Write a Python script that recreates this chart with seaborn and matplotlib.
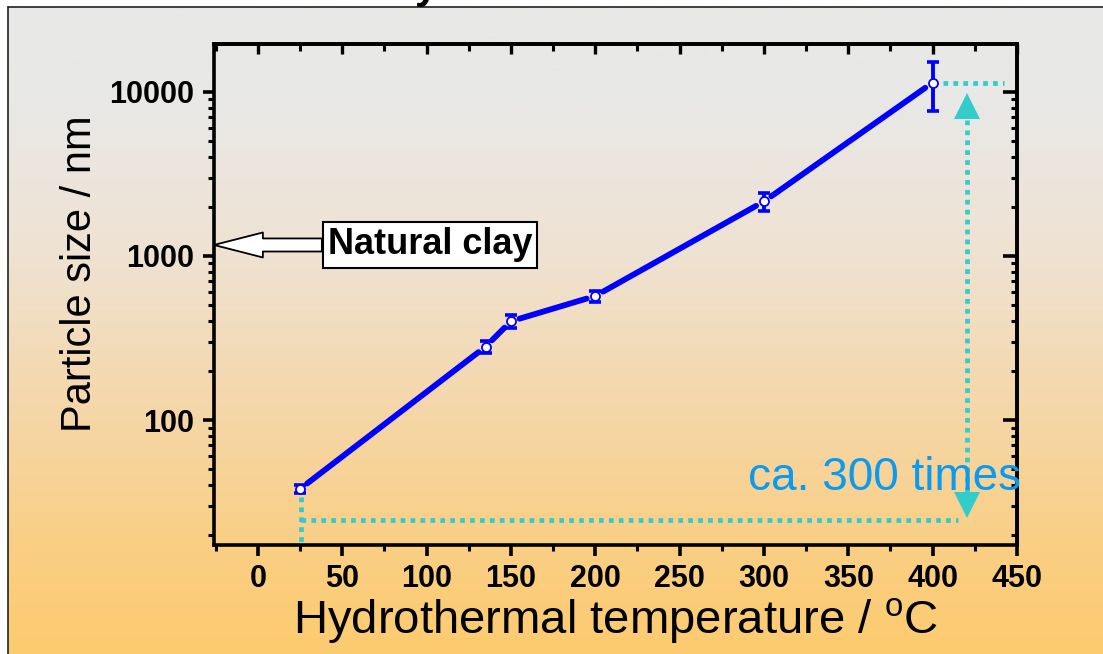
import numpy as np
import pandas as pd
import matplotlib
matplotlib.use("Agg")
import matplotlib.pyplot as plt
from matplotlib.colors import LinearSegmentedColormap
from matplotlib.ticker import MultipleLocator, LogLocator, FixedLocator, NullFormatter
import seaborn as sns

## data
temperature = [25, 135, 150, 200, 300, 400]          # degC
size_nm = [38, 280, 400, 570, 2150, 11400]           # nm
size_err = [2, 25, 38, 45, 270, 3800]
x_ticks = [0, 50, 100, 150, 200, 250, 300, 350, 400, 450]
y_ticks = [100, 1000, 10000]
natural_clay = 1167   # where the "Natural clay" arrow hits the y axis

sns.set_theme(style="ticks")
plt.rcParams["font.family"] = ["Liberation Sans", "DejaVu Sans"]
plt.rcParams["mathtext.default"] = "regular"
for k in ["text.color", "axes.labelcolor", "xtick.color", "ytick.color", "axes.edgecolor"]:
    plt.rcParams[k] = "black"

W, H = 1103, 654
fig = plt.figure(figsize=(W / 100, H / 100), dpi=100)
fig.patch.set_facecolor("white")

## gradient background with a thin frame
bg = fig.add_axes([0, 0, 1, 1], zorder=-10)
cmap = LinearSegmentedColormap.from_list(
    "bg", [(0.0, "#E8E8E8"), (0.15, "#E9E8E6"), (0.38, "#EFE2D2"),
           (0.61, "#F5D7AA"), (0.83, "#FACF84"), (1.0, "#FDCB6E")])
grad = np.linspace(0, 1, 256).reshape(-1, 1)
bg.imshow(grad, cmap=cmap, extent=[8, W + 5, H + 5, 7], aspect="auto")
bg.plot([8, 8], [7, H + 5], color="#222222", lw=1.2)
bg.plot([8, W + 5], [7, 7], color="#222222", lw=1.2)
bg.set_xlim(0, W)
bg.set_ylim(H, 0)
bg.axis("off")
# title sits above the page, only the descender of the "y" shows
fig.text(426 / W, 1 + 2 / H, "y", fontsize=30, fontweight="bold",
         ha="center", va="baseline", color="black")

ax = fig.add_axes([214 / W, 1 - 545 / H, (1017 - 214) / W, (545 - 44) / H])
ax.set_facecolor("none")
ax.set_yscale("log")
ax.set_xlim(-26, 450)
ax.set_ylim(17.3, 19600)

## line segments stop short of the markers (Origin style gap)
gap = 9.0
pts = ax.transData.transform(np.column_stack([temperature, size_nm]))
seg_rows = []
for i in range(len(pts) - 1):
    p0, p1 = pts[i], pts[i + 1]
    d = (p1 - p0) / np.hypot(*(p1 - p0))
    a, b = ax.transData.inverted().transform(np.array([p0 + d * gap, p1 - d * gap]))
    seg_rows.append({"seg": i, "T": a[0], "size": a[1]})
    seg_rows.append({"seg": i, "T": b[0], "size": b[1]})
segs = pd.DataFrame(seg_rows)

ax.errorbar(temperature, size_nm, yerr=size_err, fmt="none", ecolor="#0000FF",
            elinewidth=2.8, capsize=4.5, capthick=2.6, zorder=2)
sns.lineplot(data=segs, x="T", y="size", units="seg", estimator=None, ax=ax,
             color="#0000FF", lw=4.2, zorder=3, legend=False)
ax.plot(temperature, size_nm, ls="none", marker="o", ms=6.5, mfc="white",
        mec="#0000FF", mew=1.3, zorder=4)

## cyan guide lines and arrows
cyan = "#33CCCC"
dots = dict(color=cyan, lw=3.4, ls=(0, (1, 1.1)), zorder=1)
ax.plot([25.5, 25.5], [34, 17.3], **dots)
ax.plot([25.5, 415], [24.6, 24.6], **dots)
ax.plot([420.5, 420.5], [6740, 36.4], **dots)
ax.plot([406, 442], [11400, 11400], **dots)
ax.plot([420.5], [8160], marker="^", ms=19, color=cyan, mew=0, zorder=1)
ax.plot([420.5], [30.5], marker="v", ms=19, color=cyan, mew=0, zorder=1)

ax.text(290.6, 37.4, "ca. 300 times", color="#0A9AF0", fontsize=33,
        ha="left", va="baseline", zorder=5)

ax.annotate("Natural clay", xy=(-26, natural_clay), xytext=(102, natural_clay),
            fontsize=26, fontweight="bold", ha="center", va="center", color="black",
            bbox=dict(boxstyle="square,pad=0.14", fc="white", ec="black", lw=1.5),
            arrowprops=dict(arrowstyle="simple,head_length=1.76,head_width=0.9,tail_width=0.47",
                            fc="white", ec="black", lw=1.3, shrinkA=0, shrinkB=0,
                            mutation_scale=20),
            zorder=6, annotation_clip=False)

## axes styling
for s in ax.spines.values():
    s.set_linewidth(2.6)
    s.set_color("black")
ax.xaxis.set_major_locator(FixedLocator(x_ticks))
ax.xaxis.set_minor_locator(MultipleLocator(25))
ax.yaxis.set_major_locator(FixedLocator(y_ticks))
ax.yaxis.set_minor_locator(LogLocator(base=10, subs=np.arange(2, 10)))
ax.yaxis.set_minor_formatter(NullFormatter())
ax.set_yticklabels([str(v) for v in y_ticks])
ax.tick_params(axis="both", which="major", direction="out", length=8, width=2.6,
               labelsize=22, pad=6, colors="black")
ax.tick_params(axis="both", which="minor", direction="out", length=4.5, width=2.2)
for lab in ax.get_xticklabels() + ax.get_yticklabels():
    lab.set_fontweight("bold")

top = ax.secondary_xaxis("top")
top.xaxis.set_major_locator(FixedLocator(x_ticks))
top.xaxis.set_minor_locator(MultipleLocator(25))
top.tick_params(which="major", direction="in", length=7, width=2.4, labeltop=False)
top.tick_params(which="minor", direction="in", length=5, width=2.2)
top.spines["top"].set_linewidth(2.6)

right = ax.secondary_yaxis("right")
right.yaxis.set_major_locator(FixedLocator(y_ticks))
right.yaxis.set_minor_locator(LogLocator(base=10, subs=np.arange(2, 10)))
right.tick_params(which="major", direction="in", length=10, width=2.6, labelright=False)
right.tick_params(which="minor", direction="in", length=4.5, width=2.2, labelright=False)
right.yaxis.set_minor_formatter(NullFormatter())
right.spines["right"].set_linewidth(2.6)

ax.set_xlabel("Hydrothermal temperature / $^{o}$C", fontsize=34, labelpad=1)
ax.set_ylabel("Particle size / nm", fontsize=30)
ax.yaxis.set_label_coords(-0.142, 0.541)

fig.savefig("out.png", dpi=100)
